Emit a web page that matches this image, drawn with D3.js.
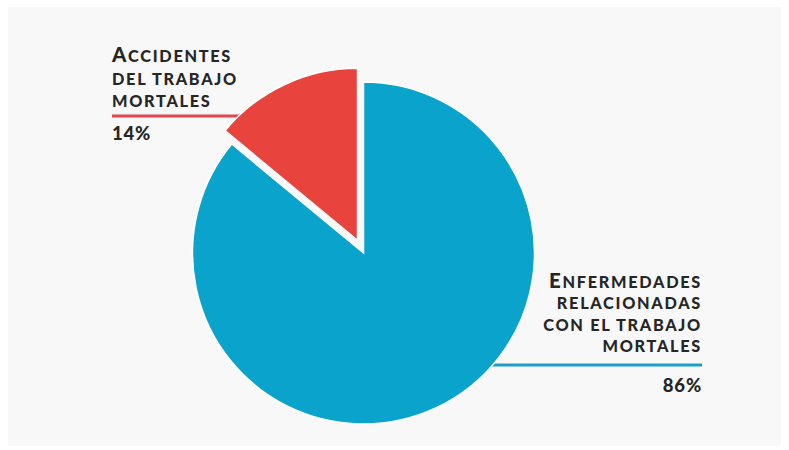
<!DOCTYPE html>
<html>
<head>
<meta charset="utf-8">
<script src="https://cdn.jsdelivr.net/npm/d3@7"></script>
<style>
  html, body { margin: 0; padding: 0; background: #ffffff; }
  svg { display: block; }
</style>
</head>
<body>
<svg id="chart" width="789" height="450"></svg>
<script>
// Share of work-related deaths
const categories = ["Accidentes del trabajo mortales", "Enfermedades relacionadas con el trabajo mortales"];
const values = [14, 86];
const labelLines = [
  ["Accidentes", "del trabajo", "mortales"],
  ["Enfermedades", "relacionadas", "con el trabajo", "mortales"]
];
const colors = ["#e8433c", "#0aa3cc"];

const svg = d3.select("#chart");

// panel background
svg.append("rect").attr("x", 8).attr("y", 7).attr("width", 773).attr("height", 439)
  .attr("fill", "#f8f8f8");

const cx = 363.5, cy = 253, R = 171;
const frac = values[0] / d3.sum(values);
const start = -2 * Math.PI * frac;

const pie = d3.pie().sort(null).startAngle(start).endAngle(start + 2 * Math.PI);
const arcs = pie(values);

const arcMain = d3.arc().innerRadius(0).outerRadius(R);
const arcRed = d3.arc().innerRadius(0).outerRadius(R + 1);

// leader lines (drawn under the slices)
const leaders = svg.append("g");
leaders.append("line").attr("x1", 112).attr("x2", 300).attr("y1", 116).attr("y2", 116)
  .attr("stroke", "#e0464c").attr("stroke-width", 3);
leaders.append("line").attr("x1", 420).attr("x2", 702).attr("y1", 365).attr("y2", 365)
  .attr("stroke", "#1b9ec8").attr("stroke-width", 3);

// slices; the small slice is pulled out along its bisector
const explode = 14;
const g = svg.append("g").attr("transform", `translate(${cx},${cy})`);
g.selectAll("path").data(arcs).join("path")
  .attr("d", (d, i) => i === 0 ? arcRed(d) : arcMain(d))
  .attr("transform", (d, i) => {
    if (i !== 0) return null;
    const mid = (d.startAngle + d.endAngle) / 2;
    return `translate(${Math.sin(mid) * explode},${-Math.cos(mid) * explode})`;
  })
  .attr("fill", (d, i) => colors[i])
  .attr("stroke", "#ffffff")
  .attr("stroke-width", 1.5);

// small-caps label helper: capitals at full size, lowercase as reduced capitals
const FONT = "Lato, 'Open Sans', sans-serif";
function smallCapsLine(sel, str, bigSize, smallSize) {
  let buf = "", big = null;
  const flush = () => {
    if (!buf) return;
    sel.append("tspan").attr("font-size", big ? bigSize : smallSize).text(buf.toUpperCase());
    buf = "";
  };
  for (const ch of str) {
    const isBig = ch !== ch.toLowerCase();
    if (big !== null && isBig !== big) flush();
    big = isBig;
    buf += ch;
  }
  flush();
}

const textColor = "#262626";
const layout = [
  { x: 112, y0: 62, step: 22.5, anchor: "start", pctY: 140 },
  { x: 702, y0: 288, step: 21.3, anchor: "end", pctY: 392 }
];

labelLines.forEach((lines, k) => {
  const L = layout[k];
  const grp = svg.append("g").attr("fill", textColor).attr("font-family", FONT)
    .attr("font-weight", 900).attr("text-anchor", L.anchor).attr("letter-spacing", 1.7);
  lines.forEach((line, j) => {
    const t = grp.append("text").attr("x", L.x).attr("y", L.y0 + j * L.step);
    smallCapsLine(t, line, 20.5, 16.3);
  });
  grp.append("text").attr("x", L.x).attr("y", L.pctY)
    .attr("font-size", 18.5).attr("letter-spacing", 0.8).text(values[k] + "%");
});
</script>
</body>
</html>
